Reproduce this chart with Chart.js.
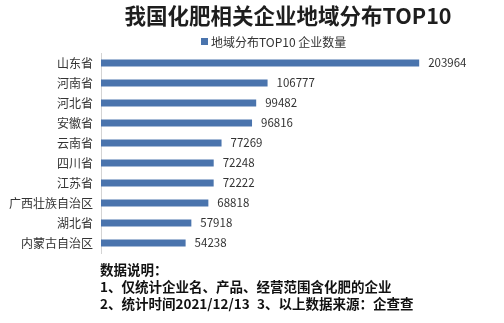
<!DOCTYPE html>
<html>
<head>
<meta charset="utf-8">
<script src="https://cdn.jsdelivr.net/npm/chart.js@4"></script>
<style>
  html, body { margin: 0; padding: 0; background: #fff; }
  #wrap { position: relative; width: 504px; height: 323px; }
</style>
</head>
<body>
<div id="wrap"><canvas id="myChart" width="504" height="323"></canvas></div>
<script>
const regions = ['山东省', '河南省', '河北省', '安徽省', '云南省', '四川省', '江苏省', '广西壮族自治区', '湖北省', '内蒙古自治区']
const counts = [203964, 106777, 99482, 96816, 77269, 72248, 72222, 68818, 57918, 54238]
const seriesName = '地域分布TOP10 企业数量'
const chartTitle = '我国化肥相关企业地域分布TOP10'
const notes = ['数据说明：', '1、仅统计企业名、产品、经营范围含化肥的企业', '2、统计时间2021/12/13', '3、以上数据来源：企查查']

const FONT = '"Noto Sans CJK SC", "Noto Sans", sans-serif'
const barColor = '#4a74ad'

// value labels at the end of every bar
const valueLabels = {
  id: 'valueLabels',
  afterDatasetsDraw(chart) {
    const ctx = chart.ctx
    const meta = chart.getDatasetMeta(0)
    ctx.save()
    ctx.font = '11.5px ' + FONT
    ctx.fillStyle = '#333'
    ctx.textAlign = 'left'
    ctx.textBaseline = 'middle'
    meta.data.forEach((bar, i) => {
      ctx.fillText(String(counts[i]), bar.x + 9, bar.y)
    })
    ctx.restore()
  }
}

// title, legend and notes
const decorations = {
  id: 'decorations',
  afterDraw(chart) {
    const ctx = chart.ctx
    ctx.save()
    ctx.textBaseline = 'middle'
    ctx.fillStyle = '#1e1e1e'
    ctx.textAlign = 'center'
    ctx.font = 'bold 21.5px ' + FONT
    ctx.fillText(chartTitle, 288, 16)

    ctx.fillStyle = barColor
    ctx.fillRect(201, 38, 7, 7)
    ctx.fillStyle = '#333'
    ctx.textAlign = 'left'
    ctx.font = '12px ' + FONT
    ctx.fillText(seriesName, 211, 42)

    ctx.fillStyle = '#111'
    ctx.font = 'bold 13.5px ' + FONT
    ctx.fillText(notes[0], 100, 270)
    ctx.fillText(notes[1], 100, 287)
    ctx.fillText(notes[2], 100, 304)
    ctx.fillText(notes[3], 257, 304)
    ctx.restore()
  }
}

const newChart = () => {
  const ctx = document.getElementById('myChart')
  return new Chart(ctx, {
    type: 'bar',
    data: {
      labels: regions,
      datasets: [{
        label: seriesName,
        data: counts,
        backgroundColor: barColor,
        categoryPercentage: 1,
        barPercentage: 0.36
      }]
    },
    options: {
      indexAxis: 'y',
      responsive: false,
      animation: false,
      layout: { padding: { top: 53, bottom: 70, left: 0, right: 13 } },
      plugins: {
        legend: { display: false },
        title: { display: false },
        tooltip: { enabled: false }
      },
      scales: {
        x: {
          display: false,
          min: 0,
          max: 250000
        },
        y: {
          grid: { display: false, drawTicks: false },
          border: { display: true, color: '#d4d4d4' },
          ticks: {
            color: '#333',
            padding: 8,
            font: { size: 12, family: FONT }
          },
          afterFit: s => { s.width = 101 }
        }
      }
    },
    plugins: [valueLabels, decorations]
  })
}

const chart = newChart()
</script>
</body>
</html>
